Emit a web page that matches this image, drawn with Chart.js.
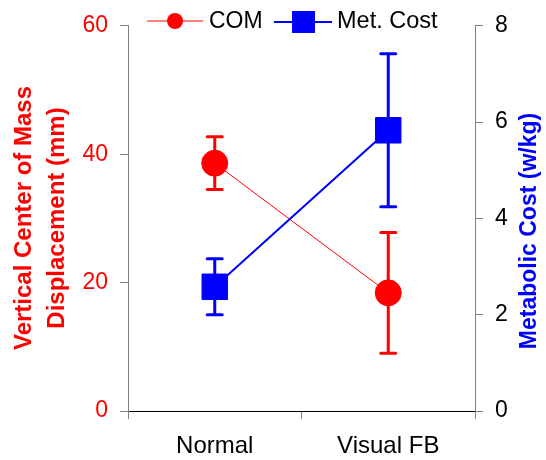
<!DOCTYPE html>
<html>
<head>
<meta charset="utf-8">
<script src="https://cdn.jsdelivr.net/npm/chart.js@4.4.1/dist/chart.umd.min.js"></script>
<style>
    html, body { margin: 0; padding: 0; background: #fff; }
    #wrap { width: 546px; height: 460px; }
</style>
</head>
<body>
<div id="wrap"><canvas id="grafico"></canvas></div>
<script>
const categories = ['Normal', 'Visual FB'];
const comMean = [38.6, 18.4];
const comSD = [4.1, 9.4];
const costMean = [2.58, 5.83];
const costSD = [0.58, 1.59];
const leftTicks = [0, 20, 40, 60];
const rightTicks = [0, 2, 4, 6, 8];

const FONT = "'Liberation Sans', Arial, sans-serif";
const RED = '#ff0000';
const BLUE = '#0000ff';

// error bars drawn under the markers
const errorBars = {
    id: 'errorBars',
    beforeDatasetsDraw(chart) {
        const ctx = chart.ctx;
        chart.data.datasets.forEach((ds, i) => {
            const meta = chart.getDatasetMeta(i);
            const scale = chart.scales[ds.yAxisID];
            ctx.save();
            ctx.strokeStyle = ds.borderColor;
            ctx.lineWidth = 3;
            ctx.lineCap = 'round';
            meta.data.forEach((pt, j) => {
                const top = scale.getPixelForValue(ds.data[j] + ds.sd[j]);
                const bot = scale.getPixelForValue(ds.data[j] - ds.sd[j]);
                ctx.beginPath();
                ctx.moveTo(pt.x, top);
                ctx.lineTo(pt.x, bot);
                ctx.moveTo(pt.x - 7.5, top);
                ctx.lineTo(pt.x + 7.5, top);
                ctx.moveTo(pt.x - 7.5, bot);
                ctx.lineTo(pt.x + 7.5, bot);
                ctx.stroke();
            });
            ctx.restore();
        });
    }
};

// legend and axis titles
const decor = {
    id: 'decor',
    afterDraw(chart) {
        const ctx = chart.ctx;
        const ds = chart.data.datasets;
        ctx.save();

        // legend
        ctx.strokeStyle = RED;
        ctx.lineWidth = 1;
        ctx.beginPath();
        ctx.moveTo(147, 21);
        ctx.lineTo(203, 21);
        ctx.stroke();
        ctx.fillStyle = RED;
        ctx.beginPath();
        ctx.arc(175, 21, 8, 0, Math.PI * 2);
        ctx.fill();
        ctx.fillStyle = '#000';
        ctx.font = '23px ' + FONT;
        ctx.textBaseline = 'alphabetic';
        ctx.fillText(ds[0].label, 209, 28);

        ctx.strokeStyle = BLUE;
        ctx.lineWidth = 2;
        ctx.beginPath();
        ctx.moveTo(274, 22);
        ctx.lineTo(332, 22);
        ctx.stroke();
        ctx.fillStyle = BLUE;
        ctx.fillRect(292, 11, 23, 22);
        ctx.fillStyle = '#000';
        ctx.font = '23.5px ' + FONT;
        ctx.fillText(ds[1].label, 337, 28);

        // y titles
        ctx.textAlign = 'center';
        ctx.textBaseline = 'middle';
        ctx.font = 'bold 24px ' + FONT;
        ctx.fillStyle = RED;
        ctx.save();
        ctx.translate(24, 218);
        ctx.rotate(-Math.PI / 2);
        ctx.fillText('Vertical Center of Mass', 0, 0);
        ctx.restore();
        ctx.save();
        ctx.translate(57, 218);
        ctx.rotate(-Math.PI / 2);
        ctx.fillText('Displacement (mm)', 0, 0);
        ctx.restore();

        ctx.font = 'bold 23px ' + FONT;
        ctx.fillStyle = BLUE;
        ctx.translate(530, 231);
        ctx.rotate(-Math.PI / 2);
        ctx.fillText('Metabolic Cost (w/kg)', 0, 0);
        ctx.restore();
    }
};

new Chart(document.getElementById('grafico'), {
    type: 'line',
    data: {
        labels: categories,
        datasets: [{
            label: 'COM',
            data: comMean,
            sd: comSD,
            yAxisID: 'yL',
            borderColor: RED,
            backgroundColor: RED,
            borderWidth: 1,
            pointStyle: 'circle',
            pointRadius: 13,
            pointBorderWidth: 1,
            order: 1
        }, {
            label: 'Met. Cost',
            data: costMean,
            sd: costSD,
            yAxisID: 'yR',
            borderColor: BLUE,
            backgroundColor: BLUE,
            borderWidth: 2,
            pointStyle: 'rect',
            pointRadius: 18,
            pointBorderWidth: 1,
            order: 0
        }]
    },
    options: {
        responsive: true,
        maintainAspectRatio: false,
        animation: false,
        layout: { padding: { top: 23 } },
        plugins: {
            legend: { display: false },
            tooltip: { enabled: false }
        },
        scales: {
            x: {
                offset: true,
                grid: { offset: true, drawOnChartArea: false, tickLength: 8, color: '#808080' },
                border: { color: '#000' },
                ticks: { color: '#000', font: { family: FONT, size: 24 }, padding: 13 },
                afterFit: s => { s.height = 49; }
            },
            yL: {
                position: 'left',
                min: 0,
                max: 60,
                afterBuildTicks: s => { s.ticks = leftTicks.map(v => ({ value: v })); },
                grid: { drawOnChartArea: false, tickLength: 8, color: '#808080' },
                border: { color: '#808080' },
                ticks: { color: RED, font: { family: FONT, size: 23 }, padding: 12 },
                afterFit: s => { s.width = 128; }
            },
            yR: {
                position: 'right',
                min: 0,
                max: 8,
                afterBuildTicks: s => { s.ticks = rightTicks.map(v => ({ value: v })); },
                grid: { drawOnChartArea: false, tickLength: 8, color: '#808080' },
                border: { color: '#808080' },
                ticks: { color: '#000', font: { family: FONT, size: 23 }, padding: 12 },
                afterFit: s => { s.width = 71; }
            }
        }
    },
    plugins: [errorBars, decor]
});
</script>
</body>
</html>
